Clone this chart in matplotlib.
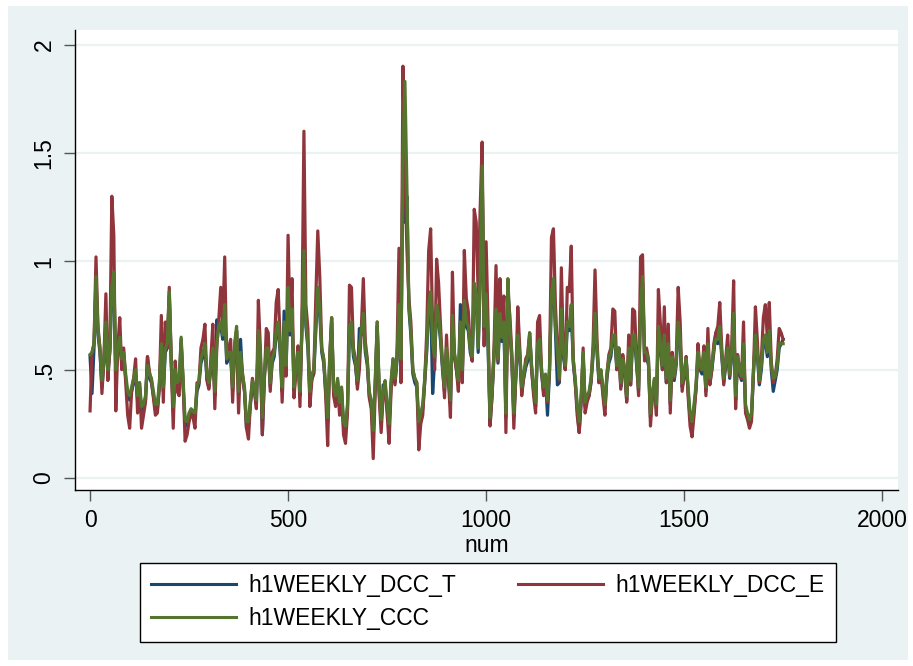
import numpy as np
import matplotlib
matplotlib.use("Agg")
import matplotlib.pyplot as plt
from matplotlib.patches import Rectangle

# ------------------------------
# Data (one value every 5 weeks)
# ------------------------------

num = np.arange(0, 1751, 5)

h1_dcc_e = [
    0.31, 0.58, 0.62, 1.02, 0.70, 0.60, 0.39, 0.55, 0.85, 0.45,
    0.60, 1.30, 1.12, 0.31, 0.60, 0.74, 0.50, 0.60, 0.44, 0.29,
    0.23, 0.40, 0.46, 0.55, 0.30, 0.44, 0.23, 0.29, 0.35, 0.56,
    0.49, 0.45, 0.37, 0.29, 0.30, 0.42, 0.75, 0.35, 0.72, 0.60,
    0.88, 0.54, 0.23, 0.54, 0.40, 0.38, 0.62, 0.44, 0.17, 0.20,
    0.26, 0.30, 0.28, 0.23, 0.44, 0.44, 0.60, 0.64, 0.71, 0.45,
    0.41, 0.55, 0.71, 0.32, 0.60, 0.73, 0.88, 0.70, 1.02, 0.55,
    0.60, 0.64, 0.35, 0.60, 0.68, 0.30, 0.55, 0.48, 0.40, 0.23,
    0.18, 0.35, 0.46, 0.40, 0.32, 0.82, 0.60, 0.20, 0.45, 0.69,
    0.67, 0.40, 0.58, 0.60, 0.81, 0.87, 0.63, 0.35, 0.60, 0.47,
    1.12, 0.70, 0.92, 0.37, 0.50, 0.61, 0.33, 0.72, 1.60, 0.80,
    0.69, 0.33, 0.45, 0.49, 0.83, 1.14, 0.93, 0.60, 0.55, 0.38,
    0.15, 0.55, 0.74, 0.38, 0.33, 0.45, 0.29, 0.41, 0.20, 0.16,
    0.30, 0.89, 0.88, 0.60, 0.55, 0.41, 0.50, 0.69, 0.92, 0.63,
    0.55, 0.37, 0.32, 0.09, 0.40, 0.72, 0.38, 0.21, 0.38, 0.43,
    0.30, 0.16, 0.40, 0.55, 0.43, 0.57, 1.06, 0.44, 1.90, 1.40,
    1.06, 0.83, 0.72, 0.50, 0.46, 0.44, 0.13, 0.25, 0.29, 0.45,
    0.67, 1.05, 1.15, 0.69, 0.50, 1.01, 0.90, 0.70, 0.52, 0.37,
    0.66, 0.45, 0.28, 0.95, 0.57, 0.50, 0.40, 0.72, 0.44, 1.05,
    0.83, 0.77, 0.60, 0.54, 1.24, 1.18, 0.85, 1.24, 1.55, 0.61,
    1.09, 0.71, 0.24, 0.38, 0.60, 0.98, 0.54, 0.92, 0.70, 0.84,
    0.21, 0.85, 0.75, 0.57, 0.23, 0.47, 0.79, 0.60, 0.38, 0.47,
    0.55, 0.57, 0.67, 0.50, 0.38, 0.30, 0.72, 0.75, 0.50, 0.38,
    0.47, 0.35, 0.50, 1.11, 1.15, 0.80, 0.60, 0.45, 0.97, 0.60,
    0.50, 0.88, 0.86, 1.07, 0.55, 0.44, 0.29, 0.21, 0.35, 0.60,
    0.30, 0.35, 0.38, 0.45, 0.61, 0.96, 0.64, 0.44, 0.49, 0.38,
    0.29, 0.48, 0.57, 0.60, 0.78, 0.77, 0.50, 0.60, 0.41, 0.57,
    0.50, 0.35, 0.66, 0.43, 0.78, 0.77, 0.55, 0.38, 1.02, 1.03,
    0.54, 0.60, 0.55, 0.24, 0.38, 0.45, 0.29, 0.87, 0.71, 0.50,
    0.79, 0.44, 0.71, 0.30, 0.58, 0.46, 0.55, 0.88, 0.72, 0.40,
    0.48, 0.56, 0.38, 0.24, 0.19, 0.29, 0.41, 0.62, 0.50, 0.50,
    0.61, 0.38, 0.69, 0.43, 0.50, 0.62, 0.67, 0.70, 0.81, 0.60,
    0.43, 0.55, 0.66, 0.47, 0.60, 0.91, 0.32, 0.57, 0.50, 0.46,
    0.72, 0.30, 0.27, 0.23, 0.26, 0.49, 0.79, 0.63, 0.44, 0.55,
    0.74, 0.80, 0.65, 0.81, 0.54, 0.44, 0.47, 0.55, 0.69, 0.67,
    0.64,
]

h1_ccc = [
    0.57, 0.58, 0.62, 0.93, 0.68, 0.60, 0.45, 0.55, 0.72, 0.50,
    0.60, 0.88, 0.95, 0.50, 0.60, 0.65, 0.55, 0.58, 0.48, 0.40,
    0.38, 0.42, 0.46, 0.50, 0.38, 0.44, 0.33, 0.34, 0.38, 0.52,
    0.48, 0.46, 0.40, 0.34, 0.34, 0.44, 0.62, 0.42, 0.60, 0.62,
    0.86, 0.55, 0.33, 0.50, 0.44, 0.45, 0.65, 0.45, 0.27, 0.26,
    0.30, 0.32, 0.31, 0.30, 0.42, 0.45, 0.55, 0.58, 0.62, 0.48,
    0.44, 0.52, 0.60, 0.40, 0.62, 0.70, 0.72, 0.66, 0.80, 0.55,
    0.58, 0.58, 0.42, 0.62, 0.70, 0.40, 0.58, 0.48, 0.42, 0.26,
    0.26, 0.36, 0.45, 0.42, 0.36, 0.68, 0.58, 0.28, 0.48, 0.60,
    0.60, 0.44, 0.55, 0.58, 0.68, 0.72, 0.60, 0.42, 0.72, 0.52,
    0.88, 0.68, 0.78, 0.42, 0.52, 0.58, 0.40, 0.70, 1.05, 0.72,
    0.62, 0.40, 0.48, 0.50, 0.70, 0.88, 0.78, 0.60, 0.55, 0.42,
    0.28, 0.55, 0.74, 0.42, 0.38, 0.46, 0.35, 0.42, 0.26, 0.24,
    0.34, 0.70, 0.72, 0.58, 0.54, 0.45, 0.60, 0.68, 0.76, 0.60,
    0.54, 0.40, 0.36, 0.22, 0.45, 0.72, 0.42, 0.27, 0.40, 0.45,
    0.34, 0.25, 0.45, 0.55, 0.46, 0.56, 0.80, 0.55, 1.50, 1.83,
    1.35, 0.80, 0.68, 0.50, 0.46, 0.44, 0.26, 0.30, 0.34, 0.46,
    0.60, 0.80, 0.86, 0.62, 0.56, 0.80, 0.75, 0.65, 0.52, 0.42,
    0.60, 0.48, 0.36, 0.75, 0.58, 0.52, 0.45, 0.72, 0.50, 0.82,
    0.72, 0.70, 0.60, 0.56, 0.90, 0.85, 0.60, 0.92, 1.44, 0.70,
    0.85, 0.62, 0.28, 0.40, 0.58, 0.78, 0.55, 0.76, 0.65, 0.72,
    0.30, 0.92, 0.70, 0.56, 0.30, 0.48, 0.66, 0.58, 0.42, 0.48,
    0.53, 0.56, 0.67, 0.52, 0.42, 0.35, 0.62, 0.64, 0.50, 0.42,
    0.48, 0.36, 0.50, 0.85, 0.92, 0.70, 0.58, 0.46, 0.78, 0.58,
    0.52, 0.72, 0.70, 0.80, 0.55, 0.46, 0.34, 0.26, 0.38, 0.58,
    0.35, 0.38, 0.40, 0.46, 0.58, 0.76, 0.60, 0.46, 0.50, 0.42,
    0.34, 0.48, 0.55, 0.58, 0.66, 0.66, 0.52, 0.60, 0.44, 0.55,
    0.50, 0.38, 0.60, 0.45, 0.66, 0.66, 0.54, 0.42, 0.80, 0.93,
    0.58, 0.58, 0.54, 0.30, 0.40, 0.46, 0.34, 0.70, 0.62, 0.52,
    0.66, 0.46, 0.62, 0.36, 0.56, 0.47, 0.54, 0.72, 0.64, 0.44,
    0.48, 0.55, 0.42, 0.30, 0.26, 0.34, 0.43, 0.58, 0.52, 0.50,
    0.58, 0.42, 0.62, 0.46, 0.52, 0.60, 0.64, 0.64, 0.70, 0.58,
    0.46, 0.54, 0.60, 0.48, 0.58, 0.76, 0.38, 0.56, 0.50, 0.47,
    0.62, 0.34, 0.30, 0.27, 0.30, 0.50, 0.66, 0.58, 0.45, 0.52,
    0.64, 0.66, 0.58, 0.68, 0.52, 0.46, 0.47, 0.52, 0.62, 0.62,
    0.62,
]

h1_dcc_t = [
    0.56, 0.39, 0.60, 0.90, 0.66, 0.58, 0.42, 0.53, 0.70, 0.48,
    0.58, 0.86, 0.92, 0.48, 0.58, 0.63, 0.53, 0.56, 0.46, 0.38,
    0.36, 0.40, 0.44, 0.48, 0.36, 0.42, 0.31, 0.32, 0.36, 0.56,
    0.46, 0.44, 0.38, 0.32, 0.32, 0.42, 0.60, 0.40, 0.58, 0.60,
    0.84, 0.53, 0.31, 0.48, 0.42, 0.43, 0.64, 0.43, 0.24, 0.24,
    0.28, 0.30, 0.29, 0.28, 0.40, 0.43, 0.53, 0.56, 0.60, 0.46,
    0.42, 0.50, 0.58, 0.38, 0.73, 0.68, 0.70, 0.64, 0.78, 0.53,
    0.56, 0.56, 0.40, 0.60, 0.68, 0.38, 0.64, 0.46, 0.40, 0.23,
    0.24, 0.34, 0.43, 0.40, 0.34, 0.66, 0.56, 0.20, 0.46, 0.58,
    0.58, 0.42, 0.53, 0.56, 0.66, 0.70, 0.58, 0.40, 0.77, 0.50,
    0.86, 0.66, 0.76, 0.40, 0.50, 0.56, 0.38, 0.68, 1.02, 0.70,
    0.60, 0.38, 0.46, 0.48, 0.68, 0.86, 0.76, 0.58, 0.53, 0.40,
    0.26, 0.53, 0.72, 0.40, 0.36, 0.44, 0.33, 0.40, 0.24, 0.22,
    0.32, 0.68, 0.70, 0.56, 0.52, 0.43, 0.69, 0.66, 0.74, 0.58,
    0.52, 0.38, 0.34, 0.20, 0.43, 0.70, 0.40, 0.25, 0.43, 0.43,
    0.32, 0.23, 0.43, 0.53, 0.44, 0.54, 0.78, 0.53, 1.45, 1.18,
    1.30, 0.78, 0.66, 0.48, 0.44, 0.42, 0.24, 0.28, 0.32, 0.44,
    0.58, 0.78, 0.84, 0.39, 0.54, 0.78, 0.73, 0.63, 0.50, 0.40,
    0.58, 0.46, 0.34, 0.73, 0.56, 0.50, 0.43, 0.80, 0.48, 0.80,
    0.70, 0.68, 0.58, 0.54, 0.88, 0.83, 0.58, 0.90, 1.42, 0.68,
    0.83, 0.60, 0.25, 0.38, 0.56, 0.76, 0.53, 0.74, 0.63, 0.70,
    0.28, 0.90, 0.68, 0.54, 0.28, 0.46, 0.64, 0.56, 0.40, 0.46,
    0.51, 0.54, 0.65, 0.50, 0.40, 0.33, 0.60, 0.62, 0.48, 0.40,
    0.46, 0.29, 0.48, 0.83, 0.90, 0.68, 0.43, 0.44, 0.76, 0.56,
    0.50, 0.70, 0.68, 0.78, 0.53, 0.44, 0.32, 0.21, 0.36, 0.56,
    0.33, 0.36, 0.38, 0.44, 0.56, 0.74, 0.58, 0.44, 0.48, 0.40,
    0.32, 0.46, 0.53, 0.56, 0.64, 0.64, 0.50, 0.60, 0.42, 0.53,
    0.48, 0.36, 0.58, 0.43, 0.64, 0.64, 0.52, 0.40, 0.78, 0.90,
    0.56, 0.56, 0.52, 0.28, 0.38, 0.44, 0.32, 0.68, 0.60, 0.50,
    0.64, 0.44, 0.60, 0.34, 0.54, 0.45, 0.52, 0.70, 0.62, 0.42,
    0.46, 0.56, 0.40, 0.28, 0.24, 0.32, 0.41, 0.56, 0.50, 0.48,
    0.56, 0.40, 0.60, 0.44, 0.50, 0.58, 0.67, 0.62, 0.68, 0.56,
    0.44, 0.52, 0.58, 0.46, 0.56, 0.74, 0.36, 0.54, 0.48, 0.45,
    0.60, 0.32, 0.28, 0.25, 0.28, 0.48, 0.64, 0.56, 0.43, 0.50,
    0.62, 0.64, 0.56, 0.66, 0.50, 0.40, 0.45, 0.50, 0.60, 0.62,
    0.64,
]

x_ticks = [0, 500, 1000, 1500, 2000]
y_ticks = [0, 0.5, 1, 1.5, 2]
y_tick_labels = ["0", ".5", "1", "1.5", "2"]

# ------------------------------
# Stata s2color look
# ------------------------------

BG = "#EAF2F3"
NAVY = "#1A476F"
MAROON = "#90353B"
GREEN = "#55752F"

plt.rcParams["font.family"] = ["Liberation Sans", "DejaVu Sans"]
FS = 16.5

W, H = 913, 666
fig = plt.figure(figsize=(W / 100, H / 100), dpi=100)
fig.patch.set_facecolor("white")
fig.patches.append(Rectangle((8 / W, 1 - 660 / H), 900 / W, 654 / H,
                             transform=fig.transFigure, facecolor=BG,
                             edgecolor="none", zorder=-10))

left, right, top, bottom = 75, 898, 30, 490
ax = fig.add_axes([left / W, 1 - bottom / H, (right - left) / W, (bottom - top) / H])
ax.set_facecolor("white")

for yv in y_ticks:
    ax.axhline(yv, color=BG, lw=1.6, zorder=0)

l1, = ax.plot(num, h1_dcc_t, color=NAVY, lw=2.3, label="h1WEEKLY_DCC_T", zorder=2)
l2, = ax.plot(num, h1_dcc_e, color=MAROON, lw=2.3, label="h1WEEKLY_DCC_E", zorder=3)
l3, = ax.plot(num, h1_ccc, color=GREEN, lw=2.3, label="h1WEEKLY_CCC", zorder=4)

ax.set_xlim(-38, 2040)
ax.set_ylim(-0.055, 2.067)

ax.set_xticks(x_ticks)
ax.set_xticklabels([str(v) for v in x_ticks], fontsize=FS)
ax.set_yticks(y_ticks)
ax.set_yticklabels(y_tick_labels, fontsize=FS, rotation=90, va="center")
ax.tick_params(axis="both", length=8, width=1, color="#555555", pad=6)
ax.set_xlabel("num", fontsize=FS, labelpad=1)

for s in ["top", "right"]:
    ax.spines[s].set_visible(False)
for s in ["left", "bottom"]:
    ax.spines[s].set_color("black")
    ax.spines[s].set_linewidth(1)

# legend row-wise: reorder handles for matplotlib's column fill
leg = fig.legend([l1, l3, l2], [l1.get_label(), l3.get_label(), l2.get_label()],
                 loc="upper left", ncol=2, mode="expand",
                 bbox_to_anchor=(140 / W, 1 - 640 / H, 696 / W, 77 / H),
                 fontsize=FS, frameon=True, fancybox=False, framealpha=1,
                 edgecolor="black", facecolor="white", borderaxespad=0,
                 handlelength=3.7, handletextpad=0.55, labelspacing=0.42,
                 borderpad=0.5, columnspacing=1.5)
leg.get_frame().set_linewidth(1)
for ln in leg.get_lines():
    ln.set_linewidth(2.2)

fig.savefig("out.png", dpi=100, facecolor=fig.get_facecolor())
